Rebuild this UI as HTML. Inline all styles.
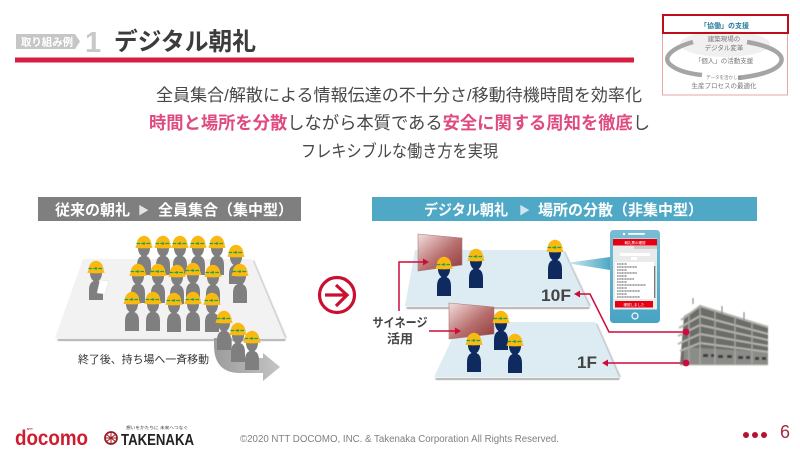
<!DOCTYPE html>
<html lang="ja"><head><meta charset="utf-8"><title>デジタル朝礼</title>
<style>
html,body{margin:0;padding:0;background:#fff;width:800px;height:450px;overflow:hidden}
svg{display:block}
text{font-family:"Liberation Sans","Noto Sans CJK JP",sans-serif}
</style></head><body>
<svg width="800" height="450" viewBox="0 0 800 450" xmlns="http://www.w3.org/2000/svg">
<defs>
<g id="w">
<path d="M-6,3 Q-6.5,10 -2.5,13 Q-7,15 -7,22 L-7,32 L7,32 L7,22 Q7,15 2.5,13 Q6.5,10 6,3 Z"/>
<path d="M-7.2,1 C-7.2,-4 -3.5,-7.2 0,-7.2 C3.5,-7.2 7.2,-4 7.2,1 L8.6,4.8 Q0,6 -8.6,4.8 Z" fill="#fbb811"/>
<path d="M-7.5,0.5 H7.5" stroke="#13a84f" stroke-width="1.3" stroke-dasharray="3.7 1.2" fill="none"/>
<circle cx="0" cy="0.5" r="1.2" fill="#13a84f"/>
</g>
<linearGradient id="s" x1="0" y1="0" x2="1" y2="1"><stop offset="0" stop-color="#f3dedd"/><stop offset=".55" stop-color="#b76f6d"/><stop offset="1" stop-color="#8f3a3a"/></linearGradient>
<linearGradient id="beam" x1="0" y1="0" x2="1" y2="0"><stop offset="0" stop-color="#d5eaf1"/><stop offset="1" stop-color="#4fa8c5"/></linearGradient>
<linearGradient id="ga" x1="0" y1="0" x2="1" y2="0"><stop offset="0" stop-color="#9c9c9c"/><stop offset="1" stop-color="#c4c4c4"/></linearGradient>
<linearGradient id="ph" x1="0" y1="0" x2="0" y2="1"><stop offset="0" stop-color="#78bdd5"/><stop offset="1" stop-color="#48a3c3"/></linearGradient>
<filter id="b"><feGaussianBlur stdDeviation=".35"/></filter>
<filter id="b2"><feGaussianBlur stdDeviation=".8"/></filter>
<filter id="b3" x="-20%" y="-20%" width="140%" height="140%"><feGaussianBlur stdDeviation=".5"/></filter>
</defs>

<!-- header -->
<path d="M16,34 H75 L80,41.5 L75,49 H16 Z" fill="#c6c6c6"/>
<text x="21" y="45.5" font-size="10.5" font-weight="700" fill="#fff" textLength="52" lengthAdjust="spacingAndGlyphs">取り組み例</text>
<text x="85" y="52" font-size="29" font-weight="700" fill="#c8c8c8">1</text>
<text x="114" y="50" font-size="24.5" font-weight="700" fill="#3c3c3c" textLength="142" lengthAdjust="spacingAndGlyphs">デジタル朝礼</text>
<rect x="15" y="57.5" width="619" height="5" fill="#d71f41"/>

<!-- mini card -->
<rect x="662.5" y="15" width="125" height="80" fill="#fff" stroke="#eaa5a8"/>
<ellipse cx="725" cy="44" rx="45" ry="13" fill="#f0f0f0"/>
<g filter="url(#b)">
<path d="M693,42 C672,48 660,58 672,66 C680,72 692,74 702,75" fill="none" stroke="#a5a5a5" stroke-width="4.5"/>
<path d="M747,42 C770,46 787,54 780,64 C774,72 755,76 738,78" fill="none" stroke="#a5a5a5" stroke-width="4.5"/>
<text x="724.5" y="28" font-size="7" font-weight="700" text-anchor="middle" fill="#2b7e99">「協働」の支援</text>
<text x="724" y="41" font-size="6.5" text-anchor="middle" fill="#777">建築現場の</text>
<text x="724" y="50" font-size="6.5" text-anchor="middle" fill="#777">デジタル変革</text>
<text x="724" y="63" font-size="6.5" text-anchor="middle" fill="#777">「個人」の活動支援</text>
<text x="724" y="79" font-size="4.5" text-anchor="middle" fill="#777">データを活かした</text>
<text x="724" y="88" font-size="6.5" text-anchor="middle" fill="#777">生産プロセスの最適化</text>
</g>
<rect x="663" y="15" width="125" height="18" fill="none" stroke="#c00d1e" stroke-width="2"/>

<!-- lead -->
<text x="156" y="101" font-size="17" fill="#484848" textLength="486" lengthAdjust="spacingAndGlyphs">全員集合/解散による情報伝達の不十分さ/移動待機時間を効率化</text>
<text x="149" y="129" font-size="17.5" fill="#484848" textLength="501" lengthAdjust="spacingAndGlyphs"><tspan font-weight="700" fill="#df4a80">時間と場所を分散</tspan>しながら本質である<tspan font-weight="700" fill="#df4a80">安全に関する周知を徹底</tspan>し</text>
<text x="301" y="157" font-size="17" fill="#484848" textLength="197" lengthAdjust="spacingAndGlyphs">フレキシブルな働き方を実現</text>

<!-- bars -->
<rect x="38" y="197" width="263" height="24" fill="#7f7f7f"/>
<g font-size="15" font-weight="700" fill="#fff">
<text x="55" y="215">従来の朝礼</text>
<text x="138" y="214" font-size="11" fill="#e4e4e4">▶</text>
<text x="158" y="215">全員集合</text>
<text x="218" y="215">（集中型）</text>
</g>
<rect x="372" y="197" width="385" height="24" fill="#4fa9c6"/>
<g font-size="15" font-weight="700" fill="#fff">
<text x="424" y="215" textLength="84" lengthAdjust="spacingAndGlyphs">デジタル朝礼</text>
<text x="519" y="214" font-size="11" fill="#cde6ef">▶</text>
<text x="538" y="215">場所の分散</text>
<text x="613" y="215">（非集中型）</text>
</g>

<!-- left scene -->
<path d="M57,339 H286 L285,341 H58 Z" fill="#aaa" filter="url(#b3)"/>
<path d="M254,260 L287,338 L283,338 L252,262 Z" fill="#d0d0d0" filter="url(#b3)"/>
<path d="M83,259 H252 L285,338 H55 Z" fill="#f2f2f2"/>
<path d="M214,338 L214,345 Q214,373 240,373 L263,373 L263,381 L280,367 L263,353 L263,358 L245,358 Q232,358 232,345 L232,338 Z" fill="url(#ga)"/>
<g fill="#7f7f7f">
<use href="#w" x="144" y="243"/><use href="#w" x="163" y="243"/><use href="#w" x="180" y="243"/><use href="#w" x="198" y="243"/><use href="#w" x="217" y="243"/><use href="#w" x="236" y="252"/>
<use href="#w" x="138" y="271"/><use href="#w" x="158" y="271"/><use href="#w" x="177" y="272"/><use href="#w" x="193" y="270"/><use href="#w" x="213" y="272"/><use href="#w" x="240" y="271"/>
<use href="#w" x="132" y="299"/><use href="#w" x="153" y="299"/><use href="#w" x="174" y="300"/><use href="#w" x="193" y="299"/><use href="#w" x="212" y="300"/>
<use href="#w" x="96" y="268"/>
<use href="#w" x="224" y="318"/><use href="#w" x="238" y="330"/><use href="#w" x="252" y="338"/>
</g>
<path d="M100,280 L109,281 L105,294 L97,293 Z" fill="#fff" stroke="#ddd" stroke-width=".5"/>
<text x="78" y="363" font-size="11" fill="#333" textLength="131" lengthAdjust="spacingAndGlyphs">終了後、持ち場へ一斉移動</text>

<!-- circle arrow -->
<circle cx="337" cy="295" r="17.5" fill="#fff" stroke="#ca0f33" stroke-width="3.2"/>
<path d="M325,295 H347 M336,285 L347,295 L336,306" fill="none" stroke="#ca0f33" stroke-width="3.2"/>

<!-- right scene -->
<path d="M406,307 H590 L589,309 H407 Z" fill="#aaa" filter="url(#b3)"/>
<path d="M565,251 L591,306 L587,306 L563,253 Z" fill="#c4c8c9" filter="url(#b3)"/>
<path d="M415,250 H563 L589,306 H405 Z" fill="#dcecf2"/>
<path d="M435,378 H620 L619,380 H436 Z" fill="#aaa" filter="url(#b3)"/>
<path d="M597,323 L621,377 L617,377 L595,325 Z" fill="#c4c8c9" filter="url(#b3)"/>
<path d="M460,322 H595 L619,377 H434 Z" fill="#dcecf2"/>

<path d="M566,263 L610,257 V270 Z" fill="url(#beam)"/>

<path d="M418,234 L462,238 V265 L418,271 Z" fill="url(#s)" stroke="#a87a7a" stroke-width=".6"/>
<path d="M449,303 L494,307 V334 L449,339 Z" fill="url(#s)" stroke="#a87a7a" stroke-width=".6"/>

<g fill="none" stroke="#cf0a3c" stroke-width="1.5">
<path d="M399,311 V262 H424"/>
<path d="M429,331 H457"/>
<path d="M686,332 H609 L590,294 H578"/>
<path d="M686,363 H606"/>
</g>
<g fill="#cf0a3c">
<path d="M429,262 L423,258.5 V265.5 Z"/>
<path d="M461,331 L455,327.5 V334.5 Z"/>
<path d="M574,294 L580,290.5 V297.5 Z"/>
<path d="M602,363 L608,359.5 V366.5 Z"/>
</g>

<g fill="#0e2a5f">
<use href="#w" x="444" y="264"/><use href="#w" x="476" y="256"/><use href="#w" x="555" y="247"/>
<use href="#w" x="501" y="318"/><use href="#w" x="474" y="340"/><use href="#w" x="515" y="341"/>
</g>

<text x="541" y="301" font-size="17" font-weight="700" fill="#444" textLength="30" lengthAdjust="spacingAndGlyphs">10F</text>
<text x="577" y="368" font-size="17" font-weight="700" fill="#444" textLength="20" lengthAdjust="spacingAndGlyphs">1F</text>
<text x="400" y="327" font-size="12.5" font-weight="700" fill="#444" text-anchor="middle" textLength="55" lengthAdjust="spacingAndGlyphs">サイネージ</text>
<text x="400" y="343" font-size="12.5" font-weight="700" fill="#444" text-anchor="middle" textLength="26" lengthAdjust="spacingAndGlyphs">活用</text>

<!-- phone -->
<rect x="610" y="230" width="50" height="93" rx="3.5" fill="url(#ph)"/>
<circle cx="624" cy="234" r="1.2" fill="#fff"/><rect x="628" y="233" width="17" height="1.8" rx=".9" fill="#fff"/>
<rect x="613" y="238.5" width="44" height="71" fill="#e9eaea"/>
<rect x="613" y="239" width="44" height="6.5" fill="#e60012"/>
<text x="635" y="244" font-size="3.5" fill="#fff" text-anchor="middle">朝礼票の確認</text>
<rect x="634" y="246" width="23" height="3" fill="#ccc"/>
<rect x="620" y="253" width="30" height="3" fill="#fff"/><rect x="631" y="257" width="6" height="3" fill="#fff"/>
<rect x="615" y="262" width="39" height="37" fill="#fff"/>
<rect x="654" y="266" width="1.3" height="32" fill="#777"/>
<g stroke="#555" stroke-width=".9" stroke-dasharray="1.2 .4" filter="url(#b)">
<path d="M617,264 H627 M617,267 H637 M617,270 H627 M617,273 H637 M617,276 H627 M617,279 H634 M617,282 H627 M617,285 H646 M617,288 H627 M617,291 H640 M617,294 H627 M617,297 H640"/>
</g>
<rect x="615" y="301" width="38" height="6.5" fill="#e60012"/>
<text x="634" y="306" font-size="3.5" fill="#fff" text-anchor="middle">確認しました</text>
<circle cx="635" cy="316" r="3" fill="none" stroke="#fff" stroke-width="1.2"/>

<!-- building -->
<g filter="url(#b3)">
<path d="M684,316 L700,306 L768,327 V365 H680 Z" fill="#6c6c6a"/>
<path d="M684,365 V347 L768,352 V365 Z" fill="#8b8b89"/>
<g fill="none" stroke="#b4b4ac" stroke-width="2">
<path d="M700,306 L768,327 M700,316 L768,334 M700,325 L768,340 M700,334 L768,346 M700,343 L768,352"/>
<path d="M681,320 L700,306 M679,328 L700,316 M678,336 L700,325 M678,344 L700,334 M680,351 L700,343"/>
</g>
<path d="M700,305 V365 M715,311 V365 M735,317 V365 M752,322 V365 M689,314 V365" fill="none" stroke="#a5a5a0" stroke-width="1.4"/>
<path d="M693,304 V298 M722,316 V306 M744,320 V312" stroke="#777" stroke-width="1" fill="none"/>
<g fill="#3a3a3a">
<rect x="703" y="354" width="5" height="3"/><rect x="711" y="354" width="3" height="3"/><rect x="718" y="355" width="5" height="3"/><rect x="727" y="355" width="5" height="3"/><rect x="738" y="356" width="5" height="3"/><rect x="746" y="356" width="4" height="3"/><rect x="755" y="357" width="4" height="3"/><rect x="762" y="357" width="4" height="3"/>
</g>
<path d="M680,365 H768" stroke="#c8c0b0" stroke-width="1"/>
</g>
<circle cx="686" cy="332" r="3.4" fill="#cf0a3c"/>
<circle cx="686" cy="363" r="3.4" fill="#cf0a3c"/>

<!-- footer -->
<text x="15" y="445" font-size="21" font-weight="700" fill="#d01c2f" textLength="73" lengthAdjust="spacingAndGlyphs">docomo</text>
<text x="27" y="430" font-size="3" font-weight="700" fill="#d01c2f">NTT</text>
<circle cx="111" cy="438" r="6" fill="none" stroke="#9c1c24" stroke-width="1.8"/>
<path d="M105,438 H117 M111,432 V444 M106,434 L116,442 M116,434 L106,442" stroke="#9c1c24" stroke-width="1"/>
<text x="121" y="445" font-size="16" font-weight="700" fill="#222" textLength="73" lengthAdjust="spacingAndGlyphs">TAKENAKA</text>
<text x="126" y="429" font-size="4.2" fill="#333" textLength="62" lengthAdjust="spacingAndGlyphs">想いをかたちに 未来へつなぐ</text>
<text x="240" y="442" font-size="10" fill="#808080" textLength="319" lengthAdjust="spacingAndGlyphs">©2020 NTT DOCOMO, INC. &amp; Takenaka Corporation All Rights Reserved.</text>
<circle cx="746" cy="435" r="3" fill="#b5122f"/><circle cx="755" cy="435" r="3" fill="#b5122f"/><circle cx="764" cy="435" r="3" fill="#b5122f"/>
<text x="780" y="438" font-size="18" fill="#a52a40">6</text>
</svg>
</body></html>
